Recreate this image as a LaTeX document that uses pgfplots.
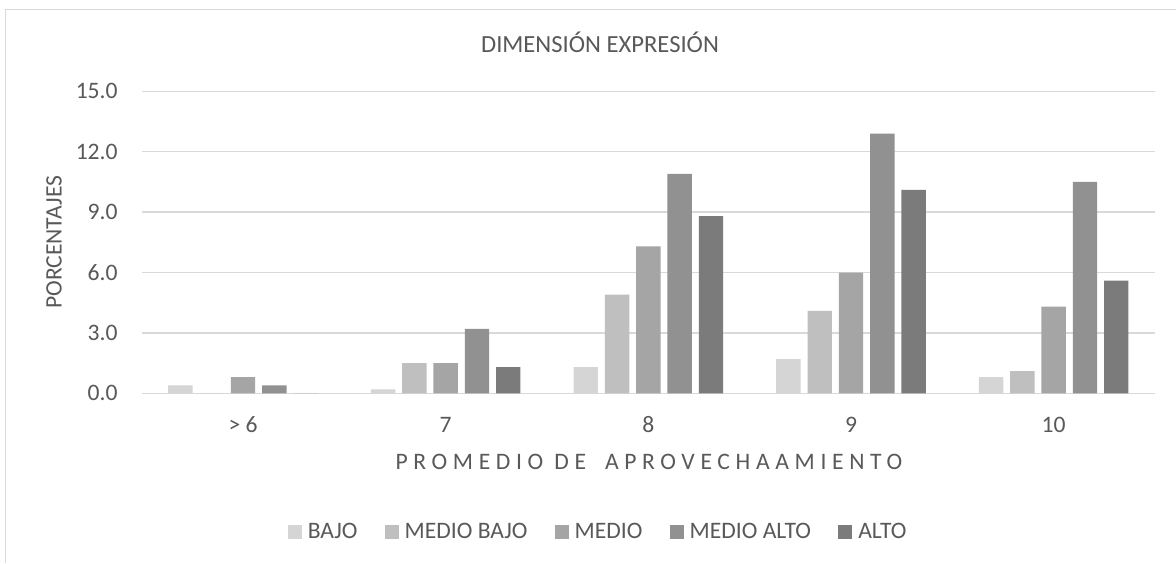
\documentclass[border=0pt]{standalone}
\usepackage{fontspec}
\setmainfont{Carlito}
\usepackage{pgfplots}
\pgfplotsset{compat=1.18}
\definecolor{txt}{HTML}{595959}
\definecolor{gridc}{HTML}{D9D9D9}
\definecolor{cA}{HTML}{D5D5D5}
\definecolor{cB}{HTML}{BFBFBF}
\definecolor{cC}{HTML}{A5A5A5}
\definecolor{cD}{HTML}{919191}
\definecolor{cE}{HTML}{7B7B7B}
\newcommand\fs{\fontsize{11.8}{14}\selectfont}
\begin{document}
\begin{tikzpicture}
\useasboundingbox (0,0) rectangle (588pt,-281.5pt);
\fill[white] (0,0) rectangle (588pt,-281.5pt);
\draw[gridc, line width=0.65pt] (2.75pt,-281.5pt) -- (2.75pt,-4.75pt) -- (588pt,-4.75pt);
\begin{axis}[
  at={(70.85pt,-196.65pt)}, anchor=south west,
  scale only axis, width=506.65pt, height=151pt,
  xmin=-0.5, xmax=4.5, ymin=0, ymax=15,
  ybar=3.45pt, bar width=12.2pt,
  xtick={0,1,2,3,4}, xticklabels={{> 6},7,8,9,10},
  ytick={0,3,6,9,12,15},
  /pgf/number format/fixed, /pgf/number format/fixed zerofill,
  /pgf/number format/precision=1, /pgf/number format/assume math mode=true,
  major tick length=0pt,
  axis x line*=bottom, axis y line*=left,
  y axis line style={draw=none},
  x axis line style={gridc, line width=0.7pt},
  ymajorgrids, major grid style={gridc, line width=0.7pt},
  tick label style={font=\fs, text=txt},
  xticklabel style={anchor=base, yshift=-19.45pt},
  yticklabel style={anchor=east, inner sep=0pt, xshift=-11.85pt},
  title={DIMENSIÓN EXPRESIÓN},
  every axis title shift=0pt,
  title style={at={(axis description cs:0.4523,1.1272)}, anchor=base, yshift=0pt, font=\fontsize{12.3}{14}\selectfont, text=txt},
  xlabel={\addfontfeature{LetterSpace=24}PROMEDIO DE\hspace{4pt} APROVECHAAMIENTO},
  xlabel style={at={(axis description cs:0.5006,-0.2526)}, anchor=base, font=\fs, text=txt},
  ylabel={PORCENTAJES},
  ylabel style={at={(axis description cs:-0.0866,0.5)}, anchor=center, font=\fs, text=txt},
  legend columns=-1,
  legend image code/.code={\fill[#1] (0pt,-3.5pt) rectangle (7pt,3.5pt);},
  legend style={at={(axis description cs:0.4495,-0.46)}, anchor=center, draw=none, fill=none,
    font=\fontsize{11.8}{14}\selectfont, text=txt, nodes={inner sep=0pt},
    /tikz/every even column/.append style={column sep=13.6pt},
    /tikz/every odd column/.append style={column sep=3pt}},
]
\addplot[fill=cA, draw=none] coordinates {(0,0.4) (1,0.2) (2,1.3) (3,1.7) (4,0.8)};
\addplot[fill=cB, draw=none] coordinates {(0,0) (1,1.5) (2,4.9) (3,4.1) (4,1.1)};
\addplot[fill=cC, draw=none] coordinates {(0,0.8) (1,1.5) (2,7.3) (3,6.0) (4,4.3)};
\addplot[fill=cD, draw=none] coordinates {(0,0.4) (1,3.2) (2,10.9) (3,12.9) (4,10.5)};
\addplot[fill=cE, draw=none] coordinates {(0,0) (1,1.3) (2,8.8) (3,10.1) (4,5.6)};
\legend{BAJO, MEDIO BAJO, MEDIO, MEDIO ALTO, ALTO}
\end{axis}
\end{tikzpicture}
\end{document}
